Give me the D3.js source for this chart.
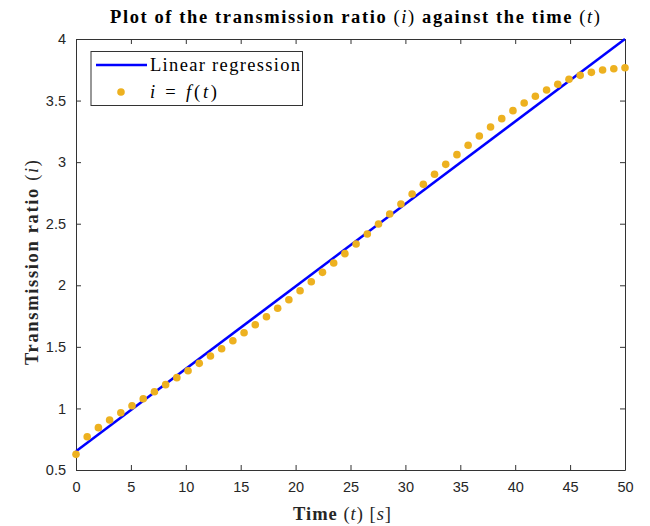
<!DOCTYPE html>
<html><head><meta charset="utf-8">
<script src="https://cdn.jsdelivr.net/npm/d3@7"></script>
<style>body{margin:0;background:#fff}svg{display:block}</style>
</head><body>
<svg id="c" width="650" height="526"></svg>
<script>
const tValues = d3.range(50).map(k => k * 50 / 49);
const ratioValues = [0.627,0.770,0.844,0.906,0.965,1.022,1.079,1.136,1.193,1.250,
  1.306,1.366,1.426,1.485,1.550,1.615,1.680,1.745,1.813,1.883,
  1.956,2.029,2.105,2.181,2.257,2.335,2.417,2.498,2.579,2.660,
  2.741,2.820,2.902,2.982,3.061,3.137,3.212,3.285,3.353,3.418,
  3.480,3.535,3.586,3.632,3.673,3.705,3.729,3.748,3.759,3.767];
const regT = [0, 50];
const regValues = [0.652, 4.0];
const xTicks = [0,5,10,15,20,25,30,35,40,45,50];
const yTicks = [0.5,1,1.5,2,2.5,3,3.5,4];

const L=76,R=625,T=39,B=470;
const svg=d3.select("#c");
const x=d3.scaleLinear().domain([0,50]).range([L,R]);
const y=d3.scaleLinear().domain([0.5,4]).range([B,T]);
const axC="#333";
const tickFont="'Liberation Sans', Arial, sans-serif";
const serif="'Liberation Serif','Times New Roman',serif";

const gx=svg.append("g").attr("transform",`translate(0,${B})`)
  .call(d3.axisBottom(x).tickValues(xTicks).tickSizeInner(-5).tickSizeOuter(0).tickPadding(12).tickFormat(d3.format("")));
const gxt=svg.append("g").attr("transform",`translate(0,${T})`)
  .call(d3.axisTop(x).tickValues(xTicks).tickSizeInner(-5).tickSizeOuter(0).tickFormat(""));
const gy=svg.append("g").attr("transform",`translate(${L},0)`)
  .call(d3.axisLeft(y).tickValues(yTicks).tickSizeInner(-5).tickSizeOuter(0).tickPadding(10).tickFormat(d3.format("")));
const gyr=svg.append("g").attr("transform",`translate(${R},0)`)
  .call(d3.axisRight(y).tickValues(yTicks).tickSizeInner(-5).tickSizeOuter(0).tickFormat(""));
[gx,gxt,gy,gyr].forEach(g=>{
  g.select(".domain").attr("stroke",axC).attr("stroke-width",1);
  g.selectAll(".tick line").attr("stroke",axC);
  g.selectAll("text").attr("font-family",tickFont).attr("font-size",14.5).attr("fill","#262626");
});

svg.append("path").datum(regT.map((t,i)=>[t,regValues[i]]))
  .attr("d",d3.line().x(d=>x(d[0])).y(d=>y(d[1])))
  .attr("fill","none").attr("stroke","#0000ff").attr("stroke-width",2.5);

svg.append("g").selectAll("circle").data(tValues.map((t,i)=>[t,ratioValues[i]])).join("circle")
  .attr("cx",d=>x(d[0])).attr("cy",d=>y(d[1])).attr("r",3.8).attr("fill","#EDB120");

// title
const title=svg.append("text").attr("x",110).attr("y",23)
  .attr("font-family",serif).attr("font-size",18.5).attr("fill","#000")
  .attr("textLength",490).attr("lengthAdjust","spacing");
title.append("tspan").attr("font-weight","bold").text("Plot of the transmission ratio ");
title.append("tspan").text("(");
title.append("tspan").attr("font-style","italic").text("i");
title.append("tspan").text(")");
title.append("tspan").attr("font-weight","bold").text(" against the time ");
title.append("tspan").text("(");
title.append("tspan").attr("font-style","italic").text("t");
title.append("tspan").text(")");

// x label
const xl=svg.append("text").attr("x",293).attr("y",520)
  .attr("font-family",serif).attr("font-size",18.5).attr("fill","#262626")
  .attr("textLength",98).attr("lengthAdjust","spacing");
xl.append("tspan").attr("font-weight","bold").text("Time ");
xl.append("tspan").text("(");
xl.append("tspan").attr("font-style","italic").text("t");
xl.append("tspan").text(") [");
xl.append("tspan").attr("font-style","italic").text("s");
xl.append("tspan").text("]");

// y label
const yl=svg.append("text").attr("transform",`translate(38,365) rotate(-90)`)
  .attr("font-family",serif).attr("font-size",18.5).attr("fill","#262626")
  .attr("textLength",205).attr("lengthAdjust","spacing");
yl.append("tspan").attr("font-weight","bold").text("Transmission ratio ");
yl.append("tspan").text("(");
yl.append("tspan").attr("font-style","italic").text("i");
yl.append("tspan").text(")");

// legend
const lg=svg.append("g");
lg.append("rect").attr("x",91).attr("y",51.5).attr("width",211.5).attr("height",54)
  .attr("fill","#fff").attr("stroke","#333").attr("stroke-width",1);
lg.append("line").attr("x1",96).attr("x2",147).attr("y1",65).attr("y2",65).attr("stroke","#0000ff").attr("stroke-width",2.5);
lg.append("text").attr("x",150).attr("y",71).attr("font-family",serif).attr("font-size",18.5).attr("fill","#000")
  .attr("textLength",150).attr("lengthAdjust","spacing").text("Linear regression");
lg.append("circle").attr("cx",121).attr("cy",92).attr("r",3.8).attr("fill","#EDB120");
const lt=lg.append("text").attr("x",150).attr("y",98).attr("font-family",serif).attr("font-size",18.5).attr("fill","#000")
  .attr("textLength",67).attr("lengthAdjust","spacing");
lt.append("tspan").attr("font-style","italic").text("i");
lt.append("tspan").text(" = ");
lt.append("tspan").attr("font-style","italic").text("f");
lt.append("tspan").text("(");
lt.append("tspan").attr("font-style","italic").text("t");
lt.append("tspan").text(")");
</script>
</body></html>
